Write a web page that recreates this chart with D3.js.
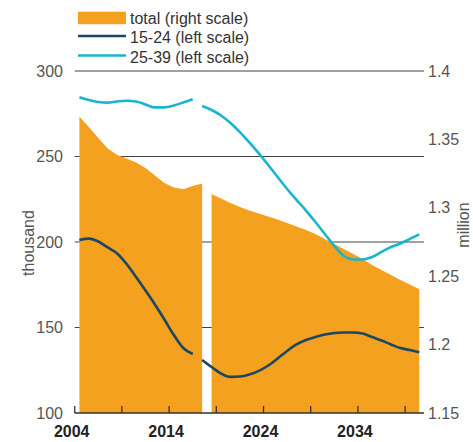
<!DOCTYPE html>
<html>
<head>
<meta charset="utf-8">
<script src="https://d3js.org/d3.v7.min.js"></script>
<style>
  body { margin: 0; background: #fff; }
  svg { font-family: "Liberation Sans", Arial, Helvetica, sans-serif; }
</style>
</head>
<body>
<svg></svg>
<script>
var width = 473,
    height = 442;

var svg = d3.select("svg")
    .attr("width", width)
    .attr("height", height);

// Years shown on the category axis.
var years = d3.range(2004, 2041);
var yearLabels = [2004, 2014, 2024, 2034];
var yearTicks = [2004, 2009, 2014, 2019, 2024, 2029, 2034, 2039];

// Total population (million, right scale): history and projection.
var totalHist = [1.3666, 1.3591, 1.3510, 1.3433, 1.3386, 1.3360, 1.3331, 1.3291,
                 1.3236, 1.3181, 1.3148, 1.3135, 1.3159, 1.3178];
var totalProj = [1.3101, 1.3068, 1.3035, 1.3006, 1.2980, 1.2958, 1.2936, 1.2914,
                 1.2889, 1.2863, 1.2838, 1.2808, 1.2772, 1.2735, 1.2699, 1.2662,
                 1.2626, 1.2582, 1.2545, 1.2509, 1.2472, 1.2439, 1.2404];

// 15-24 (thousand, left scale)
var youngHist = [201.2, 202.0, 200.3, 196.8, 193.3, 187.1, 179.5, 171.6, 163.5,
                 154.7, 145.6, 138.0, 134.5];
var youngProj = [131.0, 126.9, 123.1, 121.1, 121.3, 122.5, 124.6, 127.8, 131.9,
                 136.3, 140.1, 142.7, 144.4, 145.9, 146.8, 147.1, 147.1, 146.5,
                 144.4, 142.4, 140.1, 138.0, 136.8, 135.5];

// 25-39 (thousand, left scale)
var adultHist = [284.6, 283.0, 281.9, 281.5, 282.2, 282.6, 282.2, 280.4, 278.7,
                 278.7, 279.8, 281.6, 283.5];
var adultProj = [279.5, 277.2, 274.0, 269.6, 264.3, 258.2, 251.8, 245.0, 238.0,
                 231.0, 224.6, 218.4, 211.7, 204.7, 197.7, 191.8, 189.8, 189.8,
                 191.2, 194.2, 197.1, 199.1, 201.8, 204.5];

var leftTicks = [100, 150, 200, 250, 300];
var rightTicks = [1.15, 1.2, 1.25, 1.3, 1.35, 1.4];

var ORANGE = "#f4a120",
    NAVY = "#1b4762",
    CYAN = "#18b5cc";

var x0 = 74.7, x1 = 424, yTop = 71, yBot = 413;

var x = d3.scaleBand().domain(years).range([x0, x1]).padding(0);
var cx = function(yr) { return x(yr) + x.bandwidth() / 2; };
var yL = d3.scaleLinear().domain([100, 300]).range([yBot, yTop]);
var yR = d3.scaleLinear().domain([1.15, 1.4]).range([yBot, yTop]);

// pair each value with its year
function series(startYear, vals) {
  return vals.map(function(v, i) { return { year: startYear + i, v: v }; });
}

// gridlines (behind the area)
svg.append("g").selectAll("line")
    .data(leftTicks.slice(1))
  .enter().append("line")
    .attr("x1", x0).attr("x2", x1)
    .attr("y1", function(d) { return yL(d); })
    .attr("y2", function(d) { return yL(d); })
    .attr("stroke", "#444").attr("stroke-width", 1.2);

// total area
var area = d3.area()
    .x(function(d) { return cx(d.year); })
    .y0(yBot)
    .y1(function(d) { return yR(d.v); });

[series(2004, totalHist), series(2018, totalProj)].forEach(function(s) {
  svg.append("path").datum(s)
      .attr("d", area)
      .attr("fill", ORANGE);
});

// lines
var line = d3.line()
    .x(function(d) { return cx(d.year); })
    .y(function(d) { return yL(d.v); })
    .curve(d3.curveMonotoneX);

[[youngHist, 2004, NAVY], [youngProj, 2017, NAVY],
 [adultHist, 2004, CYAN], [adultProj, 2017, CYAN]].forEach(function(s) {
  svg.append("path").datum(series(s[1], s[0]))
      .attr("d", line)
      .attr("fill", "none")
      .attr("stroke", s[2])
      .attr("stroke-width", 2.6);
});

// x axis
svg.append("line")
    .attr("x1", x0).attr("x2", x1)
    .attr("y1", yBot).attr("y2", yBot)
    .attr("stroke", "#333").attr("stroke-width", 1.5);

svg.append("g").selectAll("line")
    .data(yearTicks)
  .enter().append("line")
    .attr("x1", function(d) { return x(d); })
    .attr("x2", function(d) { return x(d); })
    .attr("y1", yBot).attr("y2", yBot - 7)
    .attr("stroke", "#333").attr("stroke-width", 1.3);

svg.append("g").selectAll("text")
    .data(yearLabels)
  .enter().append("text")
    .attr("x", function(d) { return x(d) - 3; })
    .attr("y", 437)
    .attr("text-anchor", "middle")
    .attr("font-size", 16)
    .attr("font-weight", "bold")
    .attr("fill", "#222")
    .text(function(d) { return d; });

// left labels
svg.append("g").selectAll("text")
    .data(leftTicks)
  .enter().append("text")
    .attr("x", 63)
    .attr("y", function(d) { return yL(d); })
    .attr("dy", "0.35em")
    .attr("text-anchor", "end")
    .attr("font-size", 16)
    .attr("fill", "#555")
    .text(function(d) { return d; });

// right labels
var fmt = d3.format(".2~f");
svg.append("g").selectAll("text")
    .data(rightTicks)
  .enter().append("text")
    .attr("x", 428)
    .attr("y", function(d) { return yR(d); })
    .attr("dy", "0.35em")
    .attr("font-size", 16)
    .attr("fill", "#555")
    .text(function(d) { return fmt(d); });

// axis titles
svg.append("text")
    .attr("transform", "translate(34,243) rotate(-90)")
    .attr("text-anchor", "middle")
    .attr("font-size", 16)
    .attr("fill", "#555")
    .text("thousand");

svg.append("text")
    .attr("transform", "translate(469,225) rotate(-90)")
    .attr("text-anchor", "middle")
    .attr("font-size", 16)
    .attr("fill", "#555")
    .text("million");

// legend
var legend = [
  { label: "total (right scale)", color: ORANGE, type: "rect" },
  { label: "15-24 (left scale)", color: NAVY, type: "line" },
  { label: "25-39 (left scale)", color: CYAN, type: "line" }
];

var lg = svg.append("g").selectAll("g")
    .data(legend)
  .enter().append("g")
    .attr("transform", function(d, i) { return "translate(78," + (18 + i * 19.5) + ")"; });

lg.filter(function(d) { return d.type === "rect"; })
  .append("rect")
    .attr("x", 0).attr("y", -6.3)
    .attr("width", 48).attr("height", 12.5)
    .attr("fill", function(d) { return d.color; });

lg.filter(function(d) { return d.type === "line"; })
  .append("line")
    .attr("x1", 0).attr("x2", 48)
    .attr("y1", -1.5).attr("y2", -1.5)
    .attr("stroke", function(d) { return d.color; })
    .attr("stroke-width", 2.6);

lg.append("text")
    .attr("x", 52)
    .attr("dy", "0.35em")
    .attr("font-size", 16)
    .attr("fill", "#333")
    .text(function(d) { return d.label; });
</script>
</body>
</html>
